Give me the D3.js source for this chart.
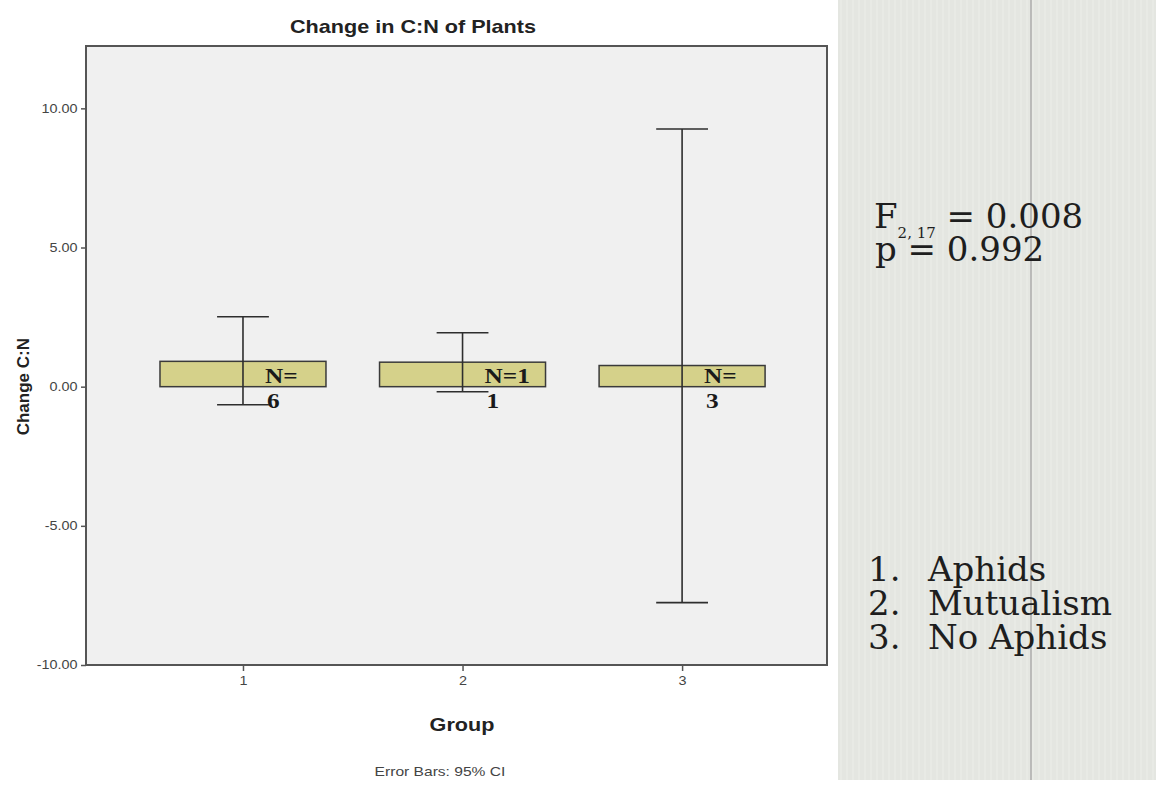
<!DOCTYPE html>
<html>
<head>
<meta charset="utf-8">
<script src="https://cdn.jsdelivr.net/npm/d3@7"></script>
<style>
  body { margin: 0; background: #fff; }
  svg { display: block; }
</style>
</head>
<body>
<svg id="chart" width="1156" height="786"></svg>
<script>
    // data
    const groups = [1, 2, 3];
    const groupNames = ["Aphids", "Mutualism", "No Aphids"];
    const means = [0.91, 0.88, 0.76];
    const ciLower = [-0.65, -0.18, -7.76];
    const ciUpper = [2.51, 1.94, 9.26];
    const nValues = [6, 11, 3];
    const yTicks = [-10, -5, 0, 5, 10];
    const fDf = "2, 17";
    const fValue = "0.008";
    const pValue = "0.992";

    const svg = d3.select("#chart");
    const width = +svg.attr("width");
    const height = +svg.attr("height");
    const plot = { left: 86, right: 827, top: 46, bottom: 665 };
    const sans = "'Liberation Sans', Arial, sans-serif";
    const stretch = 1.2; // the screenshot is a bit wider than tall

    const data = groups.map((g, i) => ({
      group: g, mean: means[i], lo: ciLower[i], hi: ciUpper[i], n: nValues[i]
    }));

    const x = d3.scaleLinear().domain([0.285, 3.66]).range([plot.left, plot.right]);
    const y = d3.scaleLinear().domain([-10, 12.24]).range([plot.bottom, plot.top]);

    svg.append("rect").attr("width", width).attr("height", height).attr("fill", "#fff");

    // right hand slide panel
    const defs = svg.append("defs");
    const pat = defs.append("pattern")
      .attr("id", "stripes").attr("patternUnits", "userSpaceOnUse")
      .attr("width", 6).attr("height", 10);
    pat.append("rect").attr("width", 6).attr("height", 10).attr("fill", "#e4e6e1");
    pat.append("rect").attr("width", 2).attr("height", 10).attr("fill", "#e8eae5");

    svg.append("rect")
      .attr("x", 838).attr("y", 0).attr("width", width - 838).attr("height", 780)
      .attr("fill", "url(#stripes)");
    svg.append("line")
      .attr("x1", 1031).attr("x2", 1031).attr("y1", 0).attr("y2", 780)
      .attr("stroke", "#a4a4a4").attr("stroke-width", 1.3);

    // plot area
    svg.append("rect")
      .attr("x", plot.left).attr("y", plot.top)
      .attr("width", plot.right - plot.left).attr("height", plot.bottom - plot.top)
      .attr("fill", "#f0f0f0");

    // bars
    const barHalf = 0.378;
    svg.selectAll(".bar")
      .data(data)
      .enter()
      .append("rect")
      .attr("class", "bar")
      .attr("x", d => x(d.group - barHalf))
      .attr("width", d => x(d.group + barHalf) - x(d.group - barHalf))
      .attr("y", d => y(Math.max(0, d.mean)))
      .attr("height", d => Math.abs(y(d.mean) - y(0)))
      .attr("fill", "#d5d18a")
      .attr("stroke", "#3a3a3a")
      .attr("stroke-width", 1.5);

    // error bars
    const capHalf = 0.118;
    const err = svg.selectAll(".err").data(data).enter().append("g")
      .attr("class", "err").attr("stroke", "#2e2e2e").attr("stroke-width", 1.6);
    err.append("line")
      .attr("x1", d => x(d.group)).attr("x2", d => x(d.group))
      .attr("y1", d => y(d.lo)).attr("y2", d => y(d.hi));
    err.append("line")
      .attr("x1", d => x(d.group - capHalf)).attr("x2", d => x(d.group + capHalf))
      .attr("y1", d => y(d.hi)).attr("y2", d => y(d.hi));
    err.append("line")
      .attr("x1", d => x(d.group - capHalf)).attr("x2", d => x(d.group + capHalf))
      .attr("y1", d => y(d.lo)).attr("y2", d => y(d.lo));

    // N= labels, wrapped like the original
    const nLab = svg.selectAll(".nlab").data(data).enter().append("g")
      .attr("class", "nlab")
      .attr("font-family", "'Liberation Serif', 'Times New Roman', serif")
      .attr("font-weight", "bold").attr("font-size", 22).attr("fill", "#1a1a1a");
    nLab.append("text")
      .attr("transform", d => `translate(${x(d.group) + 22},${y(0) - 4}) scale(1.15,1)`)
      .text(d => "N=" + String(d.n).slice(0, -1));
    nLab.append("text")
      .attr("transform", d => `translate(${x(d.group) + 24},${y(0) + 21}) scale(1.15,1)`)
      .text(d => String(d.n).slice(-1));

    // axes
    const yAxis = svg.append("g")
      .attr("transform", `translate(${plot.left},0)`)
      .call(d3.axisLeft(y).tickValues(yTicks).tickSize(5).tickPadding(4)
        .tickFormat(d => d.toFixed(2)));
    const xAxis = svg.append("g")
      .attr("transform", `translate(0,${plot.bottom})`)
      .call(d3.axisBottom(x).tickValues(groups).tickSize(6).tickPadding(5)
        .tickFormat(d3.format("d")));
    [yAxis, xAxis].forEach(a => {
      a.select(".domain").remove();
      a.selectAll(".tick line").attr("stroke", "#555").attr("stroke-width", 1.5);
      a.selectAll(".tick text")
        .attr("font-family", sans).attr("font-size", 12).attr("fill", "#444");
    });
    yAxis.selectAll(".tick text").attr("x", -7).attr("transform", `scale(${stretch},1)`);
    xAxis.selectAll(".tick text").attr("transform", `scale(${stretch},1)`);

    // frame
    svg.append("rect")
      .attr("x", plot.left).attr("y", plot.top)
      .attr("width", plot.right - plot.left).attr("height", plot.bottom - plot.top)
      .attr("fill", "none").attr("stroke", "#555").attr("stroke-width", 2);

    // titles
    svg.append("text")
      .attr("transform", `translate(413,33) scale(${stretch},1)`)
      .attr("text-anchor", "middle").attr("font-family", sans)
      .attr("font-weight", "bold").attr("font-size", 18).attr("fill", "#222")
      .text("Change in C:N of Plants");

    svg.append("text")
      .attr("transform", `translate(462,731) scale(${stretch},1)`)
      .attr("text-anchor", "middle").attr("font-family", sans)
      .attr("font-weight", "bold").attr("font-size", 18).attr("fill", "#222")
      .text("Group");

    svg.append("text")
      .attr("transform", `translate(29,${y(0)}) rotate(-90)`)
      .attr("text-anchor", "middle").attr("font-family", sans)
      .attr("font-weight", "bold").attr("font-size", 17).attr("fill", "#222")
      .text("Change C:N");

    svg.append("text")
      .attr("transform", `translate(440,776) scale(${stretch},1)`)
      .attr("text-anchor", "middle").attr("font-family", sans)
      .attr("font-size", 13).attr("fill", "#444")
      .text("Error Bars: 95% CI");

    // ANOVA result
    const serif = "'DejaVu Serif', serif";
    const fText = svg.append("text")
      .attr("x", 874).attr("y", 228)
      .attr("font-family", serif).attr("font-size", 34).attr("fill", "#1e1e1e");
    fText.append("tspan").text("F");
    fText.append("tspan").attr("dy", 10).attr("font-size", 15).text(fDf);
    fText.append("tspan").attr("dy", -10).text(" = " + fValue);

    svg.append("text")
      .attr("x", 875).attr("y", 261)
      .attr("font-family", serif).attr("font-size", 34).attr("fill", "#1e1e1e")
      .text("p = " + pValue);

    // group key
    const key = svg.selectAll(".key").data(groupNames).enter().append("g")
      .attr("class", "key")
      .attr("font-family", serif).attr("font-size", 34).attr("fill", "#1e1e1e");
    key.append("text")
      .attr("x", 868).attr("y", (d, i) => 581 + i * 34)
      .text((d, i) => groups[i] + ".");
    key.append("text")
      .attr("x", 928).attr("y", (d, i) => 581 + i * 34)
      .text(d => d);
</script>
</body>
</html>
